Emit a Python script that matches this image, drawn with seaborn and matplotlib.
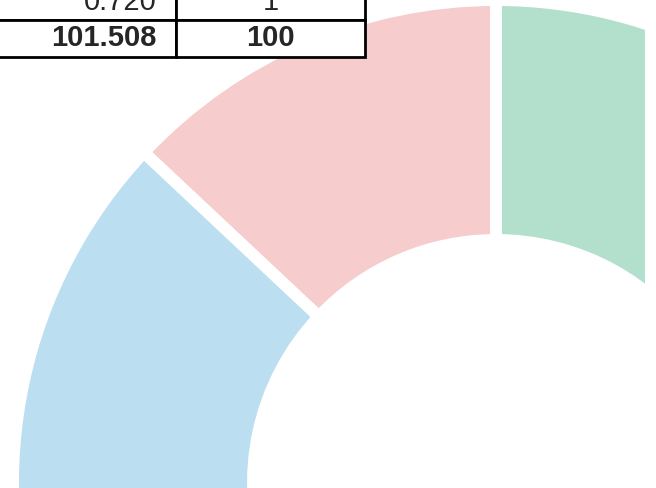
import matplotlib
matplotlib.use("Agg")
import matplotlib.pyplot as plt
import seaborn as sns

# donut slices, counter-clockwise from 12 o'clock (only first two and last are in view)
slice_values = [13.2, 35.0, 22.0, 14.588, 0.72, 16.0]
slice_colors = ["#F6CCCC", "#BBDFF1", "#F9E3B4", "#D9CCE9", "#E8E8E8", "#B2E0CC"]

# last rows of the summary table
table_values = ["0.720", "101.508"]
table_percent = ["1", "100"]

sns.set_theme(style="white")
plt.rcParams["font.family"] = ["Liberation Sans", "DejaVu Sans"]

fig = plt.figure(figsize=(6.56, 4.88), dpi=100)
fig.patch.set_facecolor("white")

# donut, 1 data unit = 1 pixel
ax = fig.add_axes([0, 0, 645 / 656, 1])
wedges, _ = ax.pie(slice_values, colors=slice_colors, startangle=90, counterclock=True,
                   center=(496, 5), radius=483,
                   wedgeprops=dict(width=240, edgecolor="white", linewidth=8.6))
for w in wedges:
    w.set_clip_on(True)
    w.set_clip_path(ax.patch)
ax.set_xlim(0, 645)
ax.set_ylim(0, 488)
ax.set_aspect("auto")
ax.axis("off")

# table sits in the top-left corner, partly cut off
tax = fig.add_axes([-15 / 656, 1 - 57 / 488, 380 / 656, 74 / 488])
tax.axis("off")
tbl = tax.table(cellText=[[v, p] for v, p in zip(table_values, table_percent)],
                cellLoc="center", bbox=[0, 0, 1, 1],
                colWidths=[191 / 380, 189 / 380])
tbl.auto_set_font_size(False)
tbl.set_fontsize(21)
for (r, c), cell in tbl.get_celld().items():
    cell.set_linewidth(2.0)
    cell.set_edgecolor("black")
    cell.set_facecolor("white")
    if c == 0:
        cell.set_text_props(ha="right")
    if r == len(table_values) - 1:
        cell.set_text_props(fontweight="bold")

fig.savefig("out.png", dpi=100)
